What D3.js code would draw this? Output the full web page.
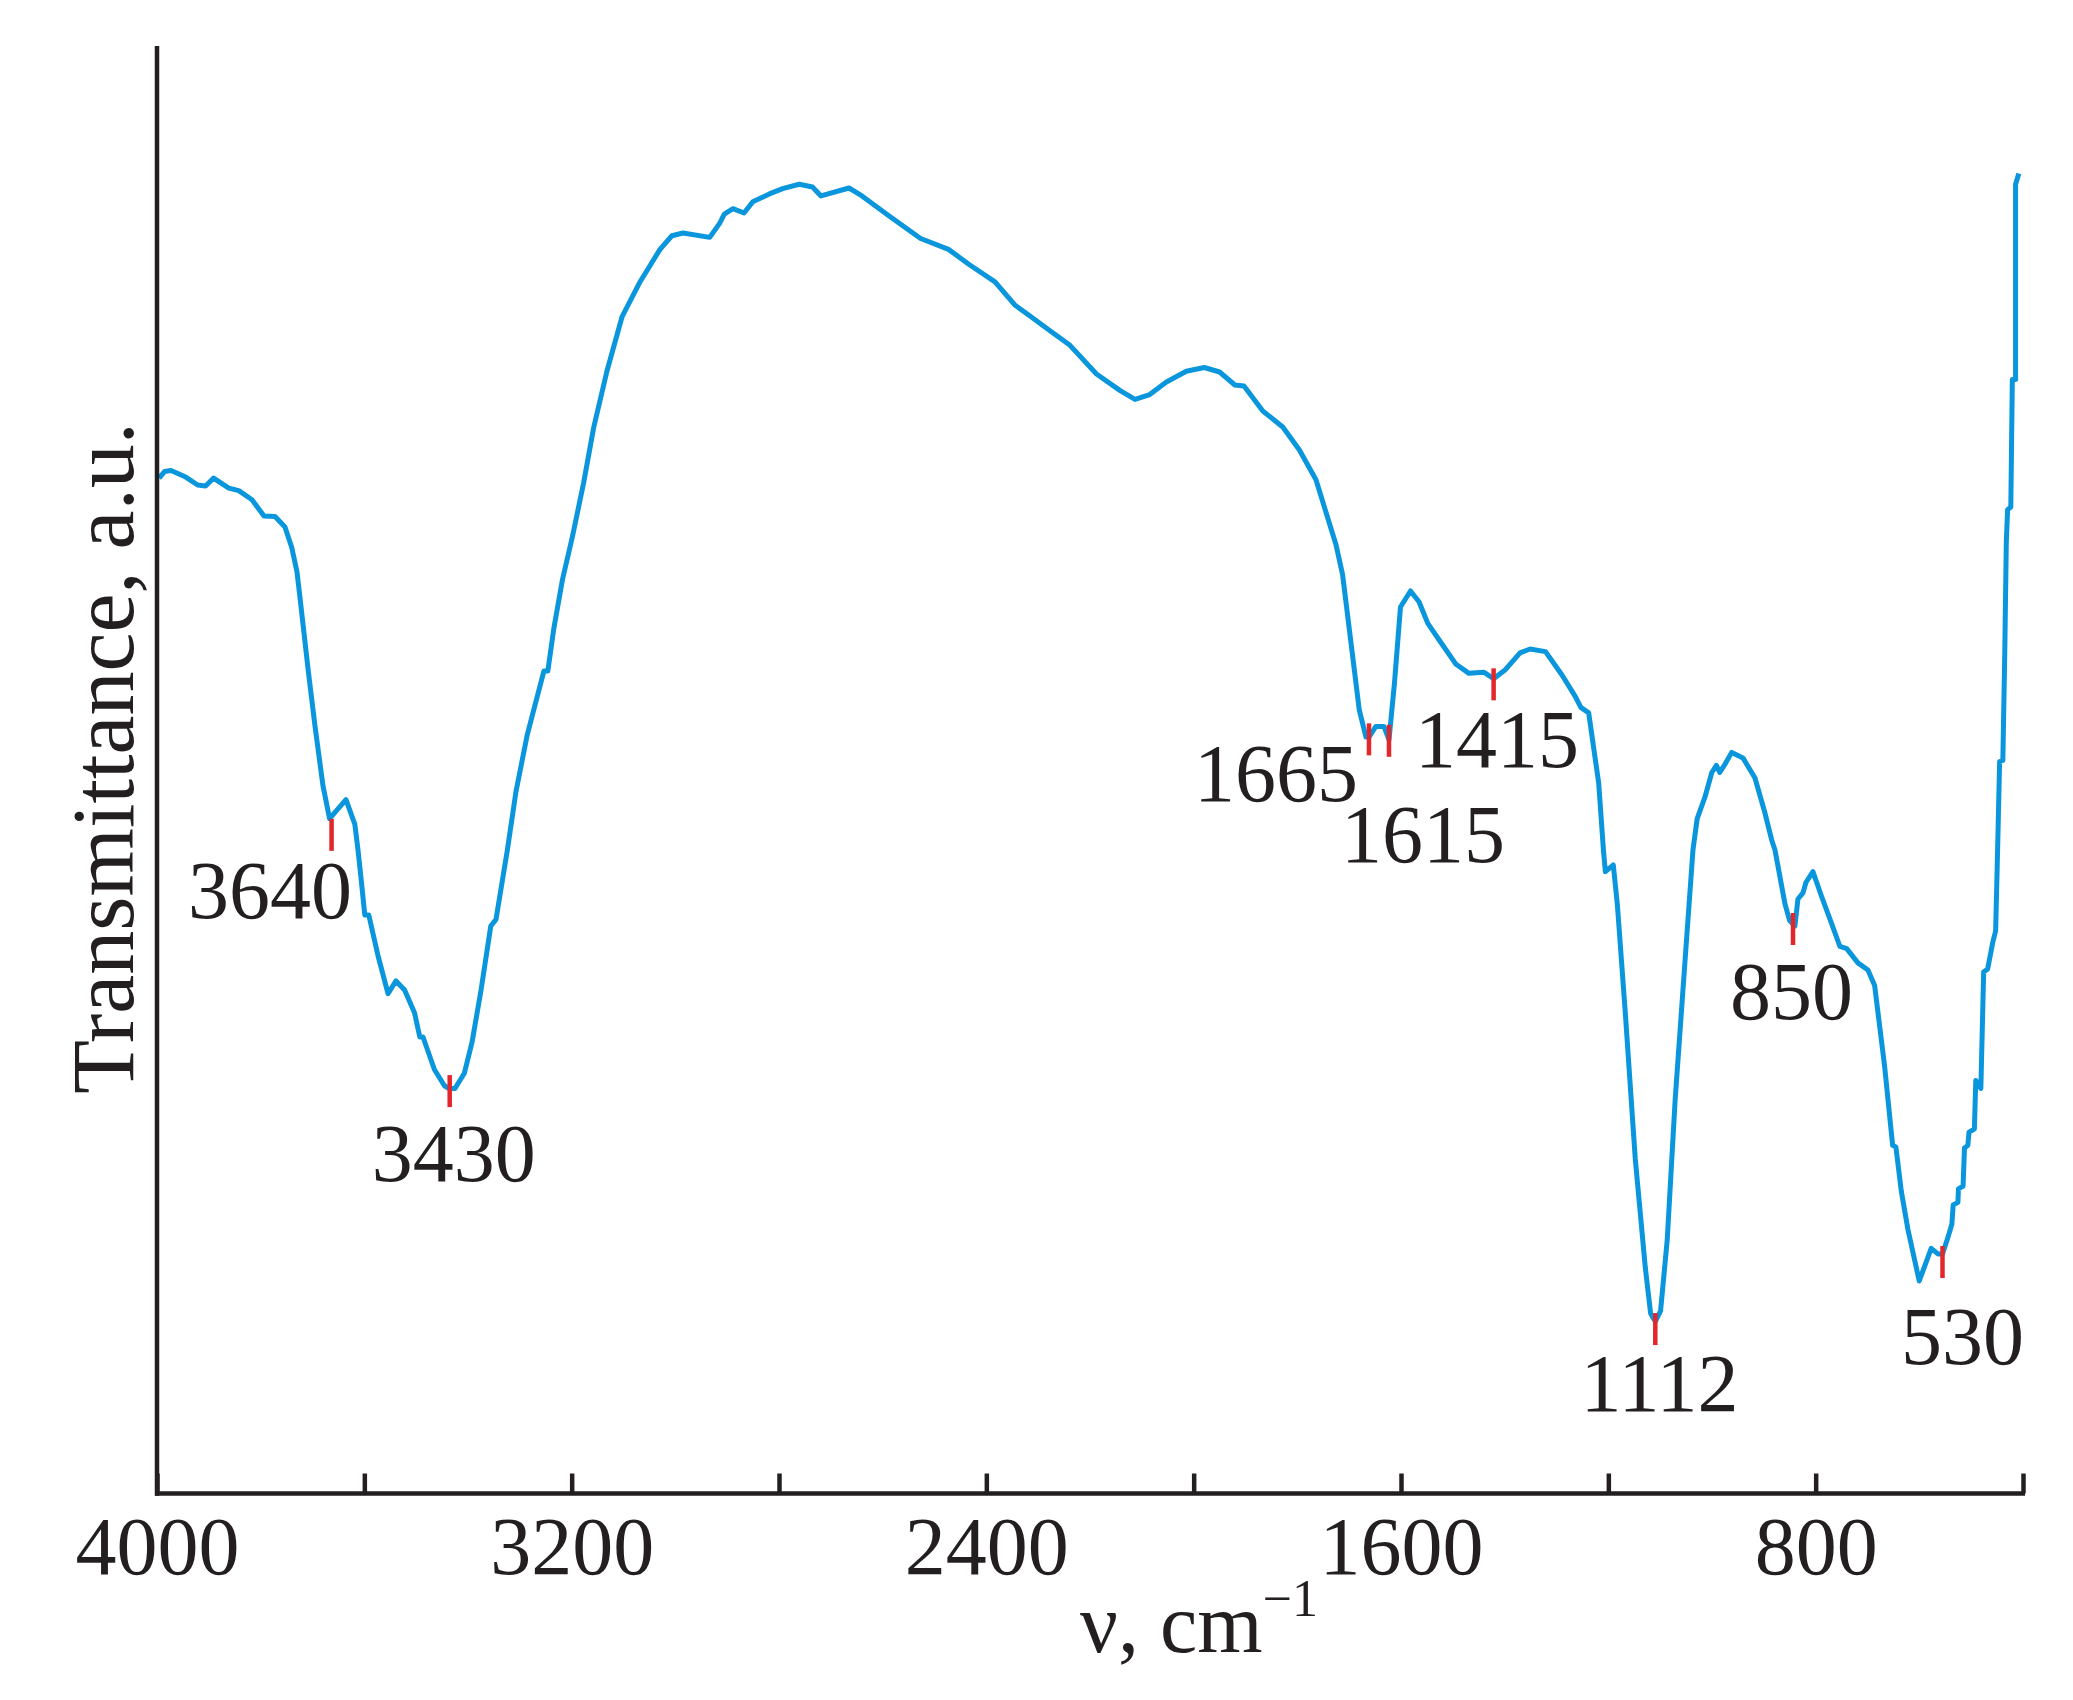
<!DOCTYPE html>
<html>
<head>
<meta charset="utf-8">
<script src="https://cdn.jsdelivr.net/npm/d3@7"></script>
<style>
  html, body { margin: 0; padding: 0; background: #ffffff; }
  svg { display: block; }
  text { font-family: "Liberation Serif", "Times New Roman", serif; fill: #231f20; }
</style>
</head>
<body>
<svg id="chart" width="2073" height="1700"></svg>
<script>
// Wavenumber (cm^-1) of each traced point of the spectrum
const wavenumber = [
  3996, 3985.5, 3973, 3944.6, 3921.5, 3906.2, 3890.8, 3861.5, 3842.2, 3816.7,
  3793.6, 3772.3, 3753.1, 3740, 3729.9, 3724.5, 3707.9, 3695.2, 3679.7, 3667,
  3635.4, 3618.4, 3612.2, 3605.5, 3599.1, 3591.4, 3573.6, 3554.3, 3538.9, 3522.3,
  3503.2, 3493, 3486.8, 3464.8, 3445.5, 3436.7, 3425.1, 3407.1, 3392.3, 3375.1,
  3356, 3346, 3324, 3307.4, 3285.6, 3253.6, 3246, 3234.5, 3217.9, 3198.6,
  3176.8, 3157.7, 3132, 3102.9, 3068.2, 3029.6, 3006.6, 2985.2, 2933.7, 2914.6,
  2905.5, 2888.8, 2867.5, 2850.5, 2818.5, 2793, 2761, 2735.4, 2719, 2665,
  2639.9, 2588.2, 2526.8, 2473, 2434.6, 2383.3, 2345.1, 2315.8, 2277.2, 2238.6,
  2187.5, 2142.5, 2113.2, 2084.8, 2052.6, 2014.2, 1979.5, 1950, 1920.5, 1902.9,
  1866.6, 1828.1, 1796, 1764, 1725.4, 1712.7, 1680.5, 1667.6, 1661.8, 1648.4,
  1633, 1623.2, 1612.6, 1601, 1581.7, 1565.3, 1548.3, 1526.7, 1494.5, 1468.8,
  1440.6, 1421.3, 1398.2, 1370.4, 1351.1, 1321.2, 1289.4, 1263.6, 1253.1, 1237.9,
  1218.6, 1209.5, 1205.7, 1190.4, 1182.7, 1167.3, 1148, 1128.7, 1118.4, 1109.4,
  1099.2, 1086.4, 1071, 1051.7, 1036.7, 1028.6, 1013.5, 1000.4, 991.5, 985,
  975, 962, 940.3, 917.1, 897.8, 884.9, 878.5, 859.2, 850.4, 840,
  834.2, 824.5, 818.8, 805.3, 788.9, 769.6, 753.2, 740.1, 718.5, 699.2,
  686.2, 666.9, 651.5, 645.2, 634.7, 622, 600.2, 577.1, 564.2, 555.3,
  544.9, 537.2, 534.7, 525.6, 524.5, 515.6, 512.9, 506.4, 504.1, 493.8,
  491.1, 481.3, 475.9, 468.2, 458.2, 452.8, 449, 445.1, 438.9, 435.1,
  432.2, 429.7, 423.5, 420.6, 414.3, 414.3, 408.1
];
// Transmittance (a.u.) of each traced point
const transmittance = [
  70.15, 70.6, 70.67, 70.22, 69.67, 69.6, 70.15, 69.46, 69.28, 68.65,
  67.53, 67.49, 66.77, 65.35, 63.66, 62.0, 56.75, 53.02, 48.87, 46.62,
  47.94, 46.25, 44.46, 42.21, 39.97, 39.97, 37.15, 34.53, 35.41, 34.78,
  33.22, 31.54, 31.54, 29.29, 28.17, 27.98, 27.98, 29.03, 31.16, 34.72,
  39.21, 39.66, 44.46, 48.5, 52.43, 56.82, 56.82, 59.74, 63.11, 66.1,
  69.84, 73.61, 77.53, 81.28, 83.7, 85.95, 86.89, 87.08, 86.78, 87.75,
  88.39, 88.76, 88.46, 89.24, 89.78, 90.15, 90.45, 90.26, 89.64, 90.19,
  89.64, 88.28, 86.7, 85.95, 84.94, 83.7, 82.11, 81.35, 80.33, 79.32,
  77.34, 76.21, 75.58, 75.92, 76.79, 77.53, 77.79, 77.48, 76.58, 76.51,
  74.78, 73.68, 72.09, 70.03, 65.54, 63.48, 54.13, 52.26, 52.26, 52.99,
  52.99, 52.06, 55.99, 61.24, 62.35, 61.61, 60.11, 58.98, 57.31, 56.66,
  56.74, 56.29, 56.93, 58.07, 58.34, 58.16, 56.55, 55.05, 54.31, 53.93,
  49.08, 44.46, 42.96, 43.42, 40.73, 33.22, 23.11, 15.62, 12.44, 11.88,
  12.62, 17.51, 27.25, 36.97, 44.46, 46.62, 48.12, 49.81, 50.3, 49.81,
  50.38, 51.2, 50.82, 49.43, 47.01, 45.15, 44.46, 40.73, 39.59, 39.21,
  41.07, 41.49, 42.21, 42.96, 41.28, 39.41, 37.79, 37.64, 36.66, 36.17,
  35.09, 29.48, 24.05, 23.94, 20.86, 18.24, 14.68, 16.93, 16.55, 16.55,
  17.68, 18.62, 19.93, 20.11, 21.04, 21.24, 23.87, 24.05, 24.97, 25.18,
  28.54, 27.98, 36.03, 36.24, 38.1, 38.86, 44.46, 50.56, 50.64, 58.24,
  65.73, 67.97, 68.15, 76.96, 76.96, 90.45, 91.19
];

// Band markers: label text, marker position (wavenumber, transmittance)
const peakLabels = ["3640", "3430", "1665", "1615", "1415", "850", "1112", "530"];
const peakMarkW  = [3663.2, 3435.3, 1661.8, 1623.2, 1421.3, 843.7, 1109.4, 555.3];
const peakMarkT  = [45.5, 27.8, 52.1, 52.0, 55.9, 39.0, 11.36, 15.99];
// Label anchor (centre of text, baseline) in data units
const labelW = [3782, 3427.4, 1841.2, 1557.5, 1414.8, 846.4, 1101.2, 516.6];
const labelT = [39.78, 21.61, 47.84, 43.63, 50.19, 32.78, 5.7, 8.95];

// Axis ticks
const xTicks = [4000, 3600, 3200, 2800, 2400, 2000, 1600, 1200, 800, 400];
const xTickLabels = ["4000", "", "3200", "", "2400", "", "1600", "", "800", ""];

const svg = d3.select("#chart");
svg.append("rect").attr("width", 2073).attr("height", 1700).attr("fill", "#ffffff");

const x = d3.scaleLinear().domain([4000, 400]).range([157, 2023]);
const y = d3.scaleLinear().domain([0, 100]).range([1493.5, 46]);

const data = wavenumber.map((w, i) => ({ w, t: transmittance[i] }));

// Spectrum
svg.append("path")
  .datum(data)
  .attr("fill", "none")
  .attr("stroke", "#0a96dd")
  .attr("stroke-width", 5)
  .attr("stroke-linejoin", "round")
  .attr("d", d3.line().x(d => x(d.w)).y(d => y(d.t)));

// Red band markers
const peaks = peakLabels.map((l, i) => ({ l, mw: peakMarkW[i], mt: peakMarkT[i], lw: labelW[i], lt: labelT[i] }));
svg.append("g").selectAll("line").data(peaks).join("line")
  .attr("x1", d => x(d.mw)).attr("x2", d => x(d.mw))
  .attr("y1", d => y(d.mt) - 16).attr("y2", d => y(d.mt) + 16)
  .attr("stroke", "#e3262a").attr("stroke-width", 4.5);

svg.append("g").selectAll("text").data(peaks).join("text")
  .attr("x", d => x(d.lw)).attr("y", d => y(d.lt))
  .attr("text-anchor", "middle")
  .attr("font-size", 82)
  .text(d => d.l);

// X axis
const xAxis = d3.axisBottom(x)
  .tickValues(xTicks)
  .tickSizeInner(-20)
  .tickSizeOuter(0)
  .tickFormat((d, i) => xTickLabels[i]);
const gx = svg.append("g").attr("transform", "translate(0,1493.5)").call(xAxis);
gx.select(".domain").attr("stroke", "#231f20").attr("stroke-width", 4.5).attr("d", "M155,0H2025");
gx.selectAll(".tick line").attr("stroke", "#231f20").attr("stroke-width", 4.5);
gx.selectAll(".tick text")
  .attr("y", 80.5).attr("dy", null)
  .attr("font-size", 82)
  .attr("font-family", "Liberation Serif, serif")
  .attr("fill", "#231f20");

// Y axis (line only)
const gy = svg.append("g").attr("transform", "translate(157,0)")
  .call(d3.axisLeft(y).tickValues([]).tickSizeOuter(0));
gy.select(".domain").attr("stroke", "#231f20").attr("stroke-width", 4.5).attr("d", "M0,46V1495.7");

// Axis titles
const xt = svg.append("text").attr("x", 1080).attr("y", 1652).attr("font-size", 84);
xt.append("tspan").text("ν, cm");
xt.append("tspan").attr("dy", -36).attr("font-size", 52).text("−1");

svg.append("text")
  .attr("transform", "translate(133,758) rotate(-90)")
  .attr("text-anchor", "middle")
  .attr("font-size", 88)
  .text("Transmittance, a.u.");
</script>
</body>
</html>
